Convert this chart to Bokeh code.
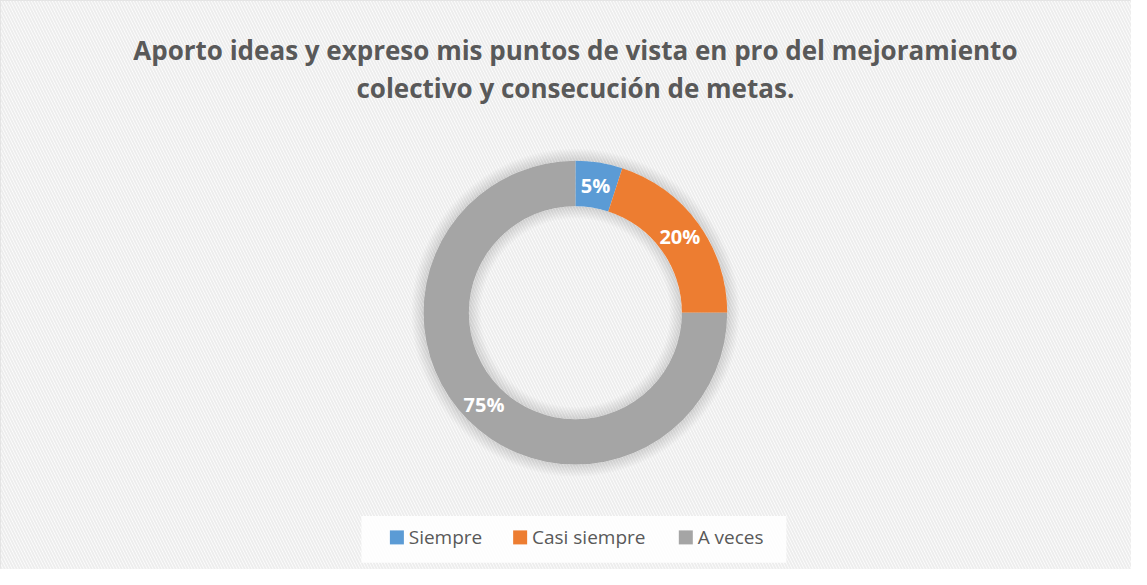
import math
from bokeh.plotting import figure
from bokeh.models import ColumnDataSource
from bokeh.core.properties import value
from bokeh.embed import file_html
from bokeh.resources import INLINE

# ---- data ----
title_lines = ["Aporto ideas y expreso mis puntos de vista en pro del mejoramiento",
               "colectivo y consecución de metas."]
categories = ["Siempre", "Casi siempre", "A veces"]
percents = [5, 20, 75]
colors = ["#5B9BD5", "#ED7D31", "#A5A5A5"]

W, H = 1131, 569
SX, SY = W / 1147, H / 585
def X(px):
    return px * SX
def Y(py):
    return H - py * SY

p = figure(width=W, height=H, x_range=(0, W), y_range=(0, H),
           output_backend="svg", toolbar_location=None,
           min_border=0, background_fill_color="white",
           border_fill_color="white")
p.axis.visible = False
p.grid.visible = False
p.outline_line_color = "#D9D9D9"
p.outline_line_width = 1

# hatched background
p.quad(left=[0], right=[W], bottom=[0], top=[H], fill_color="white",
       line_color=None, hatch_pattern="left_diagonal_line",
       hatch_color="#EDEDED", hatch_scale=6, hatch_weight=2)

# title
font = "Open Sans"
p.text(x=[X(583)] * 2, y=[Y(51), Y(90)], text=title_lines,
       text_font=value(font), text_font_style="bold", text_font_size="26px",
       text_color="#595959", text_align="center", text_baseline="middle")

# donut geometry
cx, cy = X(583), Y(321)
r_in, r_out = 108 * SX, 154 * SX

# soft shadow
for i in range(8):
    p.annular_wedge(x=[cx], y=[cy], inner_radius=r_out, outer_radius=r_out + 1.5 * (i + 1),
                    start_angle=0, end_angle=2 * math.pi, fill_color="#000000",
                    fill_alpha=0.015, line_color=None)
    p.annular_wedge(x=[cx], y=[cy], inner_radius=r_in - 1.5 * (i + 1), outer_radius=r_in,
                    start_angle=0, end_angle=2 * math.pi, fill_color="#000000",
                    fill_alpha=0.015, line_color=None)

total = sum(percents)
starts, ends, lx, ly, labels = [], [], [], [], []
a = math.pi / 2
for v in percents:
    sweep = 2 * math.pi * v / total
    starts.append(a - sweep)
    ends.append(a)
    mid = a - sweep / 2
    rm = (r_in + r_out) / 2
    lx.append(cx + rm * math.cos(mid))
    ly.append(cy + rm * math.sin(mid))
    labels.append(f"{v}%")
    a -= sweep

src = ColumnDataSource(dict(start=starts, end=ends, color=colors, lx=lx, ly=ly, label=labels))
p.annular_wedge(x=cx, y=cy, inner_radius=r_in, outer_radius=r_out,
                start_angle="start", end_angle="end", fill_color="color",
                line_color=None, source=src)
p.text(x="lx", y="ly", text="label", source=src, text_font=value(font),
       text_font_style="bold", text_font_size="20px", text_color="white",
       text_align="center", text_baseline="middle")

# legend
p.quad(left=[X(366)], right=[X(797)], bottom=[Y(578)], top=[Y(530)],
       fill_color="white", fill_alpha=0.85, line_color=None)
sq_x = [395, 520, 688]
leg_src = ColumnDataSource(dict(
    sx=[X(v + 7) for v in sq_x], sy=[Y(552)] * 3,
    tx=[X(v + 19) for v in sq_x], cat=categories, color=colors))
p.rect(x="sx", y="sy", width=14, height=14, fill_color="color", line_color=None, source=leg_src)
p.text(x="tx", y="sy", text="cat", source=leg_src, text_font=value(font),
       text_font_size="19px", text_color="#595959", text_align="left",
       text_baseline="middle")

open("out.html", "w").write(file_html(p, INLINE))
